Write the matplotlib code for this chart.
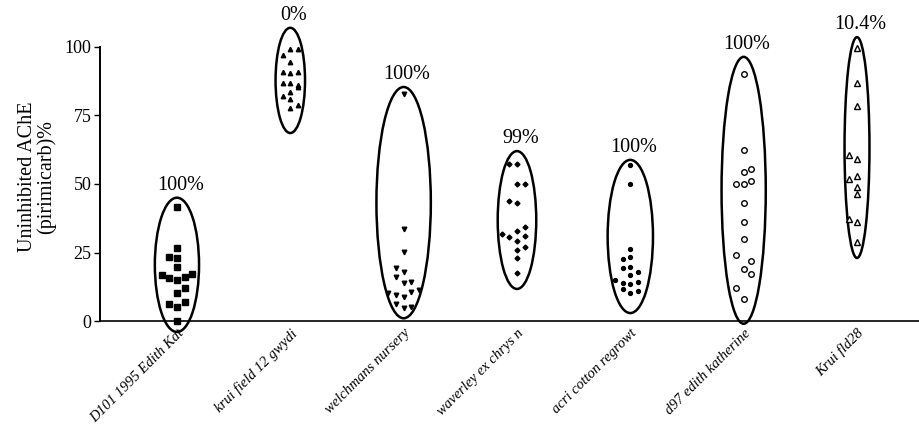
import numpy as np
import matplotlib
matplotlib.use("Agg")
import matplotlib.pyplot as plt
from matplotlib.patches import Ellipse

plt.rcParams["font.family"] = ["Liberation Serif", "DejaVu Serif"]

# Strains (x categories)
strains = [
    "D101 1995 Edith Kat",
    "krui field 12 gwydi",
    "welchmans nursery",
    "waverley ex chrys n",
    "acri cotton regrowt",
    "d97 edith katherine",
    "Krui fld28",
]

# Uninhibited AChE (%) for each individual, per strain
d101 = [41.6, 26.6, 23.4, 23.0, 19.7, 16.8, 15.7, 15.0, 16.0, 17.2, 12.0, 10.2, 6.2, 5.1, 7.0, 0.0]
krui12 = [97.0, 99.3, 99.3, 94.5, 91.0, 90.5, 91.0, 86.8, 86.8, 86.0, 85.4, 82.0, 83.6, 81.0, 78.8, 77.7]
welch = [83.0, 33.6, 25.2, 19.3, 17.9, 16.0, 13.9, 14.2, 10.2, 9.5, 8.8, 10.6, 11.3, 6.2, 4.7, 5.1]
waverley = [57.3, 57.3, 50.0, 50.0, 43.8, 43.0, 34.3, 32.8, 31.8, 30.7, 31.0, 29.2, 25.9, 27.0, 23.0, 17.5]
acri = [57.0, 50.0, 26.3, 23.4, 22.6, 19.3, 19.7, 17.9, 16.8, 15.0, 13.9, 13.5, 14.2, 11.7, 10.2, 10.9]
d97 = [90.0, 62.4, 55.5, 54.4, 50.0, 50.0, 51.0, 43.0, 36.0, 30.0, 24.0, 22.0, 19.0, 17.0, 12.0, 8.0]
fld28 = [99.6, 86.8, 78.5, 60.6, 59.0, 51.8, 52.9, 48.9, 46.4, 37.2, 36.1, 28.8]

# Horizontal scatter column of each point (avoids overlap)
d101_col = [0, 0, -1, 0, 0, -2, -1, 0, 1, 2, 1, 0, -1, 0, 1, 0]
krui12_col = [-1, 0, 1, 0, -1, 0, 1, -1, 0, 1, 1, -1, 0, 0, 1, 0]
welch_col = [0, 0, 0, -1, 0, -1, 0, 1, -2, -1, 0, 1, 2, -1, 0, 1]
waverley_col = [-1, 0, 0, 1, -1, 0, 1, 0, -2, -1, 1, 0, 0, 1, 0, 0]
acri_col = [0, 0, 0, 0, -1, -1, 0, 1, 0, -2, -1, 0, 1, -1, 0, 1]
d97_col = [0, 0, 1, 0, -1, 0, 1, 0, 0, 0, -1, 1, 0, 1, -1, 0]
fld28_col = [0, 0, 0, -1, 0, -1, 0, 0, 0, -1, 0, 0]

# Percentage resistant, printed above each group
pct_labels = ["100%", "0%", "100%", "99%", "100%", "100%", "10.4%"]

# Ellipse extent (bottom, top) in % around each group
ell_low = [-4.0, 68.6, 1.0, 11.7, 2.9, -1.0, 23.0]
ell_high = [45.0, 107.0, 85.4, 62.0, 58.8, 96.4, 103.6]
ell_width = [0.39, 0.26, 0.48, 0.34, 0.40, 0.39, 0.22]

groups = [
    (d101, d101_col, dict(marker="s", ms=4.0, mfc="black", mec="black")),
    (krui12, krui12_col, dict(marker="^", ms=3.2, mfc="black", mec="black")),
    (welch, welch_col, dict(marker="v", ms=3.3, mfc="black", mec="black")),
    (waverley, waverley_col, dict(marker="D", ms=2.5, mfc="black", mec="black")),
    (acri, acri_col, dict(marker="o", ms=2.8, mfc="black", mec="black")),
    (d97, d97_col, dict(marker="o", ms=4.0, mfc="white", mec="black", mew=1.0)),
    (fld28, fld28_col, dict(marker="^", ms=4.2, mfc="white", mec="black", mew=1.0)),
]

col_step = 0.068

fig = plt.figure(figsize=(9.19, 4.36), dpi=100)
ax = fig.add_axes([0.1088, 0.2009, 0.8912, 0.7856])

for i, (vals, cols, style) in enumerate(groups):
    xs = i + np.array(cols) * col_step
    ax.plot(xs, vals, linestyle="none", clip_on=False, zorder=3, **style)

    lo, hi = ell_low[i], ell_high[i]
    ell = Ellipse((i, (lo + hi) / 2), ell_width[i], hi - lo,
                  facecolor="none", edgecolor="black", lw=1.8,
                  clip_on=False, zorder=2)
    ax.add_patch(ell)
    ax.text(i + 0.03, hi + 1.0, pct_labels[i], ha="center", va="bottom",
            fontsize=14.5)

ax.set_xlim(-0.679, 6.547)
ax.set_ylim(-10, 115)

ax.spines["top"].set_visible(False)
ax.spines["right"].set_visible(False)
ax.spines["bottom"].set_position(("data", 0))
ax.spines["bottom"].set_linewidth(1.2)
ax.spines["left"].set_bounds(0, 100)
ax.spines["left"].set_linewidth(1.4)

ax.set_yticks([0, 25, 50, 75, 100])
ax.tick_params(axis="y", length=4, width=1.0, labelsize=13, pad=2)
ax.set_xticks(range(len(strains)))
ax.set_xticklabels(strains, rotation=45, ha="right", rotation_mode="anchor",
                   fontsize=10.5, style="italic")
ax.tick_params(axis="x", length=0, pad=4)

ax.set_ylabel("Uninhibited AChE\n(pirimicarb)%", fontsize=14.5, linespacing=1.0,
              labelpad=6)

fig.savefig("out.png", dpi=100)
